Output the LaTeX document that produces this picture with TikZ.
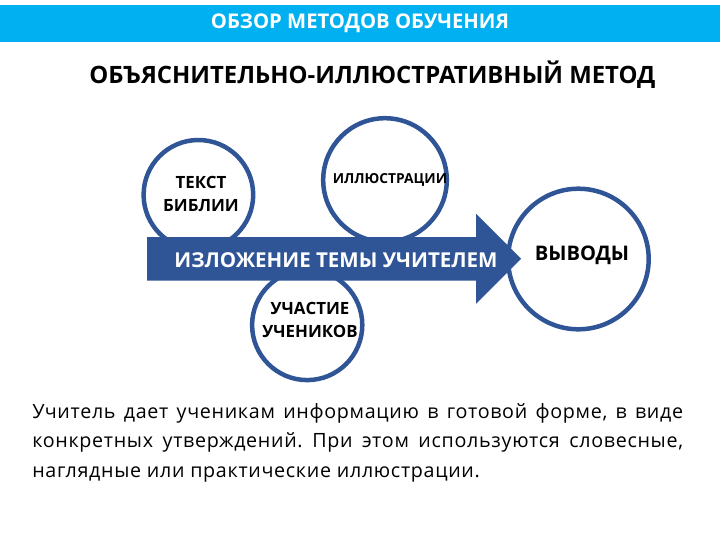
\documentclass[tikz,border=0pt]{standalone}
\usepackage{fontspec}
\setmainfont{Open Sans}
\usetikzlibrary{shapes.arrows}
\definecolor{barblue}{HTML}{00B0F0}
\definecolor{darkblue}{HTML}{2F5597}
\tikzset{
  ring/.style={draw=darkblue,line width=3.2pt,fill=white,circle,inner sep=0pt},
  ringtext/.style={inner sep=0pt,align=center,font=\fontsize{12}{17}\selectfont\bfseries},
}
\begin{document}
\begin{tikzpicture}
\useasboundingbox (0,0) rectangle (18,-13.5);
%% the header
\node[fill=barblue,text=white,minimum width=18cm,minimum height=0.93cm,inner sep=0pt,font=\fontsize{14.4}{15}\selectfont\bfseries] (bar) at (9,-0.59) {ОБЗОР МЕТОДОВ ОБУЧЕНИЯ};
\node[font=\fontsize{17}{18}\selectfont\bfseries] (title) at (9.31,-1.86) {ОБЪЯСНИТЕЛЬНО-ИЛЛЮСТРАТИВНЫЙ МЕТОД};
%% the circles
\node[ring,minimum size=2.74cm] (bible) at (4.96,-4.87) {};
\node[ring,minimum size=3.09cm] (illus) at (9.625,-4.5) {};
\node[ring,minimum size=3.515cm] (concl) at (14.46,-6.475) {};
\node[ring,minimum size=2.755cm] (pupils) at (7.68,-8.125) {};
%% the arrow
\node[single arrow,fill=darkblue,inner sep=0pt,inner ysep=15.3pt,minimum height=9.35cm,minimum width=2.25cm,single arrow head extend=0.58cm,single arrow tip angle=90] (talk) at (8.08,-6.47) {};
%% the labels
\node[ringtext] (bibletext) at (5.025,-4.85) {ТЕКСТ\\БИБЛИИ};
\node[ringtext,font=\fontsize{9.8}{12}\selectfont\bfseries] (illustext) at (9.75,-4.5) {ИЛЛЮСТРАЦИИ};
\node[ringtext,font=\fontsize{14.3}{17}\selectfont\bfseries] (concltext) at (14.55,-6.38) {ВЫВОДЫ};
\node[ringtext] (pupilstext) at (7.75,-8) {УЧАСТИЕ\\УЧЕНИКОВ};
\node[ringtext,text=white,font=\fontsize{14.6}{16}\selectfont\bfseries] (talktext) at (8.4,-6.5) {ИЗЛОЖЕНИЕ ТЕМЫ УЧИТЕЛЕМ};
%% the text
\node[anchor=north west,text width=16.27cm,inner sep=0pt,align=justify,font=\fontsize{14}{21.3}\selectfont\addfontfeature{LetterSpace=3.5}\frenchspacing] (body) at (0.8,-10.07) {Учитель дает ученикам информацию в готовой форме, в виде\linebreak конкретных утверждений. При этом используются словесные,\linebreak наглядные или практические иллюстрации.};
\end{tikzpicture}
\end{document}
